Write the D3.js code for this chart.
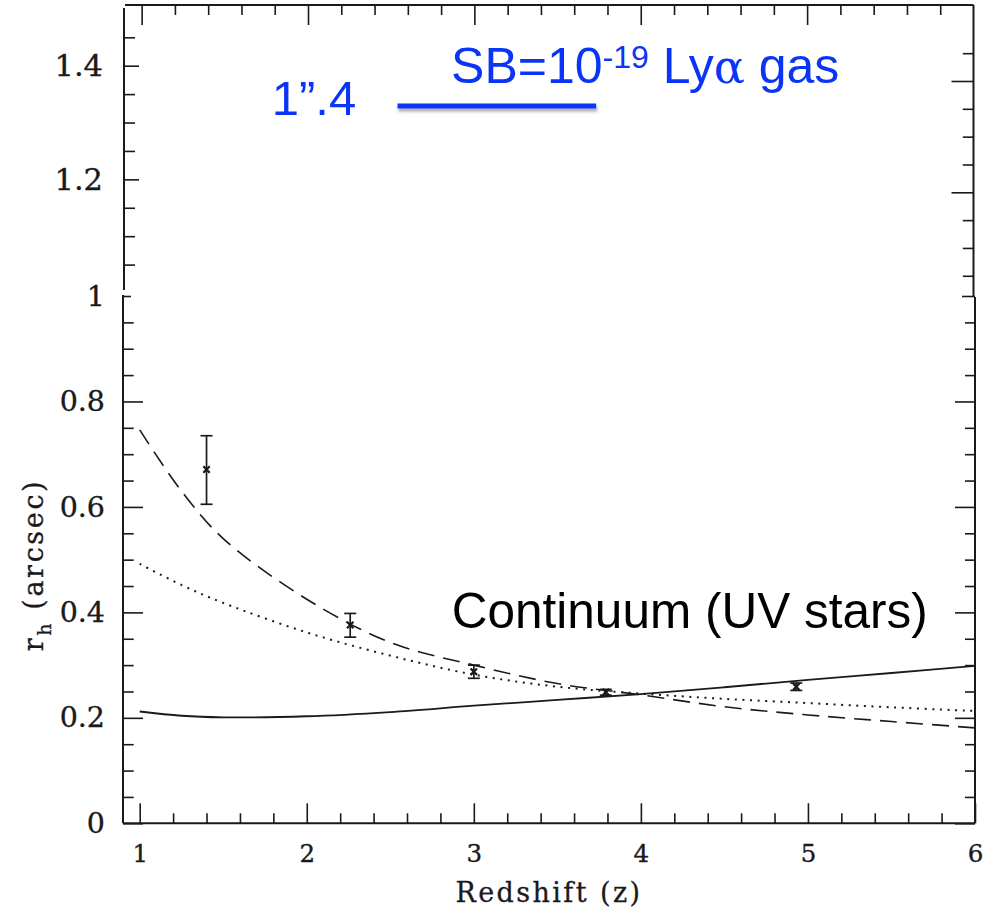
<!DOCTYPE html>
<html>
<head>
<meta charset="utf-8">
<script src="https://cdn.jsdelivr.net/npm/d3@7"></script>
<style>
body { margin: 0; background: #fff; }
</style>
</head>
<body>
<div id="chart"></div>
<script>
// Measured half-light radii (arcsec) with error bars.
var zPoints = [1.40, 2.26, 3.00, 3.79, 4.93];
var rPoints = [0.671, 0.376, 0.2875, 0.249, 0.259];
var rLow = [0.605, 0.353, 0.275, 0.243, 0.252];
var rHigh = [0.735, 0.398, 0.300, 0.254, 0.266];

// Model curves, sampled along redshift.
var zCurve = [1, 1.25, 1.5, 2, 2.5, 3, 3.5, 4, 4.5, 5, 5.5, 6];
var rSolid = [0.212, 0.204, 0.201, 0.203, 0.211, 0.223, 0.234, 0.245, 0.258, 0.272, 0.285, 0.2985];
var rDashed = [0.746, 0.630, 0.540, 0.425, 0.343, 0.300, 0.265, 0.2435, 0.221, 0.2055, 0.193, 0.181];
var rDotted = [0.492, 0.452, 0.418, 0.362, 0.318, 0.282, 0.259, 0.246, 0.236, 0.228, 0.220, 0.213];

// Ticks.
var xMajor = [1, 2, 3, 4, 5, 6];
var xMinor = d3.range(1.2, 6, 0.2).filter(function(v) { return Math.abs(v - Math.round(v)) > 0.01; });
var yBotMajor = [0, 0.2, 0.4, 0.6, 0.8, 1];
var yBotMinor = [0.05, 0.1, 0.15, 0.25, 0.3, 0.35, 0.45, 0.5, 0.55, 0.65, 0.7, 0.75, 0.85, 0.9, 0.95];
var yTopMajor = [1.2, 1.4];
var yTopMinor = [1.05, 1.1, 1.15, 1.25, 1.3, 1.35, 1.45];
var yBotLabels = ['0', '0.2', '0.4', '0.6', '0.8', '1'];

var W = 997, H = 912;
var ink = '#1a1a1a';
var blue = '#0b35f5';
var serif = '"DejaVu Serif", serif';
var sans = '"Liberation Sans", Arial, sans-serif';

var svg = d3.select('#chart').append('svg')
    .attr('width', W).attr('height', H);

var defs = svg.append('defs');
var f = defs.append('filter').attr('id', 'shadow')
    .attr('filterUnits', 'userSpaceOnUse')
    .attr('x', 0).attr('y', 0).attr('width', W).attr('height', H);
f.append('feDropShadow').attr('dx', 1).attr('dy', 3).attr('stdDeviation', 1.8)
    .attr('flood-color', '#555').attr('flood-opacity', 0.5);

// Scales: the upper panel (r > 1) is a slightly larger splice.
var xBot = d3.scaleLinear().domain([0.9, 6]).range([123, 975]);
var yBot = d3.scaleLinear().domain([0, 1]).range([823.3, 296]);
var xTop = d3.scaleLinear().domain([0.9, 6]).range([125, 973.5]);
var yTop = d3.scaleLinear().domain([1, 1.4]).range([293, 65.7]);
var yTopR = d3.scaleLinear().domain([1.2, 1.4]).range([192.3, 81]);

function axisGroup(axis, tx, ty, values, size, fmt, pad, fs) {
    var g = svg.append('g')
        .attr('transform', 'translate(' + tx + ',' + ty + ')')
        .call(axis.tickValues(values).tickSize(size).tickSizeOuter(0)
            .tickPadding(pad || 3).tickFormat(fmt || function() { return ''; }));
    g.select('.domain').remove();
    g.selectAll('line').attr('stroke', ink).attr('stroke-width', 1.6);
    g.attr('font-family', serif).attr('font-size', fs || 10);
    g.selectAll('text').attr('fill', ink)
        .attr('stroke', ink).attr('stroke-width', 0.35);
    return g;
}

// ---- Upper panel frame and ticks ----
var frame = svg.append('g').attr('stroke', ink).attr('stroke-width', 2).attr('fill', 'none');
frame.append('line').attr('x1', xTop(0.9)).attr('x2', xTop(6)).attr('y1', 5).attr('y2', 5);
frame.append('line').attr('x1', xTop(0.9) - 1).attr('x2', xTop(0.9) - 1).attr('y1', 8).attr('y2', 290);
frame.append('line').attr('x1', xTop(6)).attr('x2', xTop(6)).attr('y1', 5).attr('y2', 297);

axisGroup(d3.axisTop(xTop), 0, 5, xMajor.slice(0, 5), -20);
axisGroup(d3.axisTop(xTop), 0, 5, xMinor, -10);
axisGroup(d3.axisLeft(yTop), xTop(0.9) - 1, 0, yTopMajor, -15,
    function(d) { return d3.format('.1f')(d); }, 21, 30.5);
axisGroup(d3.axisLeft(yTop), xTop(0.9) - 1, 0, yTopMinor, -11);
axisGroup(d3.axisRight(yTopR), xTop(6), 0, yTopMajor, -22);
axisGroup(d3.axisRight(yTopR), xTop(6), 0, yTopMinor, -10.7);

// ---- Lower panel frame and ticks ----
frame.append('line').attr('x1', xBot(0.9)).attr('x2', xBot(0.9)).attr('y1', yBot(1) - 1).attr('y2', yBot(0));
frame.append('line').attr('x1', xBot(0.9)).attr('x2', xBot(6)).attr('y1', yBot(0)).attr('y2', yBot(0));
frame.append('line').attr('x1', xBot(6)).attr('x2', xBot(6)).attr('y1', yBot(1) + 1).attr('y2', yBot(0));

axisGroup(d3.axisBottom(xBot), 0, yBot(0), xMajor, -20,
    function(d) { return d; }, 21.5, 24.5);
axisGroup(d3.axisBottom(xBot), 0, yBot(0), xMinor, -10);
var yl = axisGroup(d3.axisLeft(yBot), xBot(0.9), 0, yBotMajor, -20,
    function(d, i) { return yBotLabels[i]; }, 18, 28.5);
yl.selectAll('.tick').filter(function(d) { return d === 1; }).select('line').attr('x2', 8);
axisGroup(d3.axisLeft(yBot), xBot(0.9), 0, yBotMinor, -10.7);
var yr = axisGroup(d3.axisRight(yBot), xBot(6), 0, yBotMajor, -20);
yr.selectAll('.tick').filter(function(d) { return d === 1; }).select('line').attr('x2', -13);
axisGroup(d3.axisRight(yBot), xBot(6), 0, yBotMinor, -10);

// Axis titles
svg.append('text')
    .attr('x', (xBot(0.9) + xBot(6)) / 2).attr('y', 901.5)
    .attr('text-anchor', 'middle')
    .attr('font-family', serif).attr('font-size', 27).attr('letter-spacing', 2.4)
    .attr('fill', ink).attr('stroke', ink).attr('stroke-width', 0.3)
    .text('Redshift (z)');

var yt = svg.append('text')
    .attr('transform', 'translate(43,565) rotate(-90)')
    .attr('text-anchor', 'middle')
    .attr('font-family', serif).attr('font-size', 27).attr('letter-spacing', 2.6)
    .attr('fill', ink).attr('stroke', ink).attr('stroke-width', 0.3);
yt.append('tspan').text('r');
yt.append('tspan').attr('dy', 8).attr('font-size', 19).text('h');
yt.append('tspan').attr('dy', -8).text(' (arcsec)');

// ---- Curves ----
var plot = svg.append('g');
function curve(vals) {
    return d3.line()
        .x(function(d, i) { return xBot(zCurve[i]); })
        .y(function(d) { return yBot(d); })
        .curve(d3.curveCatmullRom)(vals);
}
plot.append('path').attr('d', curve(rSolid))
    .attr('fill', 'none').attr('stroke', ink).attr('stroke-width', 1.8);
plot.append('path').attr('d', curve(rDashed))
    .attr('fill', 'none').attr('stroke', ink).attr('stroke-width', 1.6)
    .attr('stroke-dasharray', '17,9');
plot.append('path').attr('d', curve(rDotted))
    .attr('fill', 'none').attr('stroke', ink).attr('stroke-width', 2)
    .attr('stroke-dasharray', '2,5.6');

// ---- Data points with error bars ----
var pts = plot.selectAll('g.pt').data(zPoints).enter().append('g')
    .attr('stroke', ink).attr('stroke-width', 1.7);
pts.append('line')
    .attr('x1', function(d) { return xBot(d); }).attr('x2', function(d) { return xBot(d); })
    .attr('y1', function(d, i) { return yBot(rLow[i]); })
    .attr('y2', function(d, i) { return yBot(rHigh[i]); });
pts.append('line')
    .attr('x1', function(d) { return xBot(d) - 6; }).attr('x2', function(d) { return xBot(d) + 6; })
    .attr('y1', function(d, i) { return yBot(rLow[i]); })
    .attr('y2', function(d, i) { return yBot(rLow[i]); });
pts.append('line')
    .attr('x1', function(d) { return xBot(d) - 6; }).attr('x2', function(d) { return xBot(d) + 6; })
    .attr('y1', function(d, i) { return yBot(rHigh[i]); })
    .attr('y2', function(d, i) { return yBot(rHigh[i]); });
pts.append('path')
    .attr('d', function(d, i) {
        var cx = xBot(d), cy = yBot(rPoints[i]), s = 3.2;
        return 'M' + (cx - s) + ',' + (cy - s) + 'L' + (cx + s) + ',' + (cy + s) +
            'M' + (cx - s) + ',' + (cy + s) + 'L' + (cx + s) + ',' + (cy - s);
    })
    .attr('stroke-width', 2.2);

// ---- Annotations ----
svg.append('text')
    .attr('x', xTop(1.782)).attr('y', yTop(1.3132))
    .attr('font-family', sans).attr('font-size', 49).attr('fill', blue)
    .text('1\u201d.4');

svg.append('line')
    .attr('x1', xTop(2.538)).attr('x2', xTop(3.732))
    .attr('y1', yTop(1.329)).attr('y2', yTop(1.329))
    .attr('stroke', blue).attr('stroke-width', 5)
    .attr('filter', 'url(#shadow)');

var sb = svg.append('text')
    .attr('x', xTop(2.86)).attr('y', yTop(1.3696))
    .attr('font-family', sans).attr('font-size', 50).attr('fill', blue);
sb.append('tspan').text('SB=10');
sb.append('tspan').attr('dy', -15).attr('font-size', 32).text('-19');
sb.append('tspan').attr('dy', 15).text(' Ly');
sb.append('tspan').attr('font-family', serif).attr('font-size', 46).text('\u03b1');
sb.append('tspan').text(' gas');

svg.append('text')
    .attr('x', xBot(2.868)).attr('y', yBot(0.3698))
    .attr('font-family', sans).attr('font-size', 49.5).attr('fill', '#000')
    .text('Continuum (UV stars)');
</script>
</body>
</html>
